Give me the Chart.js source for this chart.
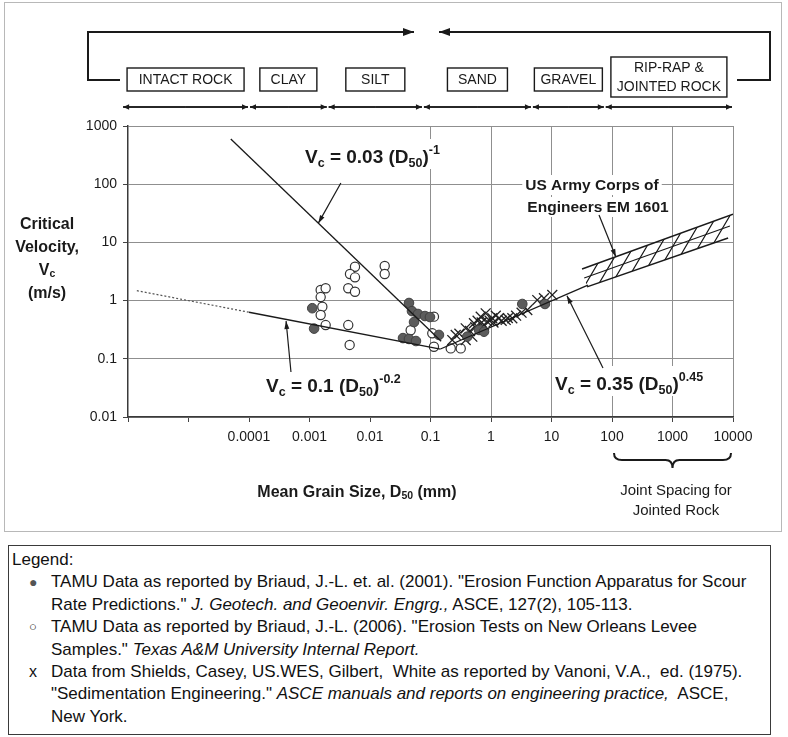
<!DOCTYPE html>
<html>
<head>
<meta charset="utf-8">
<script src="https://cdn.jsdelivr.net/npm/chart.js@4.4.1/dist/chart.umd.min.js"></script>
<style>
  html, body { margin: 0; padding: 0; background: #fff; }
  body { width: 788px; height: 737px; position: relative; overflow: hidden;
         font-family: 'Liberation Sans', Arial, Helvetica, sans-serif; color: #111; }
  #c { position: absolute; left: 0; top: 0; }
  #frame { position: absolute; left: 4px; top: 2px; width: 776px; height: 528px;
           border: 1px solid #b8b8b8; pointer-events: none; }
  #legend { position: absolute; left: 8px; top: 545px; width: 763px; height: 190px;
            box-sizing: border-box; border: 1.5px solid #3a3a3a; padding: 3px 0 0 3px;
            font-size: 17px; line-height: 22.4px; white-space: nowrap; }
  #legend .ln { position: relative; padding-left: 39px; }
  #legend .ln.head { padding-left: 0; }
  #legend .mk { position: absolute; left: 17px; top: 0; }
  #legend .dot { color: #555; font-size: 14px; left: 17px; }
  #legend .ring { color: #111; font-size: 13px; font-weight: bold; left: 17px; }
  #legend .ex { font-size: 16px; left: 17px; }
</style>
</head>
<body>
<canvas id="c" width="788" height="540"></canvas>
<div id="frame"></div>
<div id="legend">
  <div class="ln head">Legend:</div>
  <div class="ln"><span class="mk dot">&#9679;</span>TAMU Data as reported by Briaud, J.-L. et. al. (2001). "Erosion Function Apparatus for Scour</div>
  <div class="ln">Rate Predictions." <i>J. Geotech. and Geoenvir. Engrg.,</i> ASCE, 127(2), 105-113.</div>
  <div class="ln"><span class="mk ring">&#9675;</span>TAMU Data as reported by Briaud, J.-L. (2006). "Erosion Tests on New Orleans Levee</div>
  <div class="ln">Samples." <i>Texas A&amp;M University Internal Report.</i></div>
  <div class="ln"><span class="mk ex">x</span>Data from Shields, Casey, US.WES, Gilbert,&nbsp; White as reported by Vanoni, V.A.,&nbsp; ed. (1975).</div>
  <div class="ln">"Sedimentation Engineering." <i>ASCE manuals and reports on engineering practice,</i>&nbsp; ASCE,</div>
  <div class="ln">New York.</div>
</div>
<script>
// ---- Axis ticks ----
const xTicks = [1e-6, 1e-5, 1e-4, 1e-3, 1e-2, 0.1, 1, 10, 100, 1000, 10000];
const xTickLabels = ['', '', '0.0001', '0.001', '0.01', '0.1', '1', '10', '100', '1000', '10000'];
const yTicks = [0.01, 0.1, 1, 10, 100, 1000];
const yTickLabels = ['0.01', '0.1', '1', '10', '100', '1000'];

// ---- Soil classes along the grain-size axis (mm) ----
const soilClasses = [['INTACT ROCK'], ['CLAY'], ['SILT'], ['SAND'], ['GRAVEL'], ['RIP-RAP &', 'JOINTED ROCK']];
const classBounds = [8e-7, 1e-4, 0.002, 0.075, 4.75, 76, 10000];

// ---- TAMU data, Briaud et al. (2001): D50 (mm), Vc (m/s) ----
const tamu2001D = [0.00111, 0.00119, 0.0441, 0.0494, 0.0621, 0.081, 0.0534, 0.098,
                   0.0351, 0.0441, 0.0575, 0.138, 0.405, 0.634, 0.766, 3.29, 7.8];
const tamu2001V = [0.74, 0.33, 0.91, 0.66, 0.589, 0.543, 0.428, 0.522,
                   0.227, 0.219, 0.202, 0.257, 0.24, 0.313, 0.292, 0.875, 0.875];

// ---- TAMU data, Briaud (2006), New Orleans levee samples ----
const tamu2006D = [0.00153, 0.00185, 0.00153, 0.00163, 0.00153, 0.00185,
                   0.00565, 0.00467, 0.00565, 0.00437, 0.00565, 0.00437, 0.00461, 0.0175, 0.0175,
                   0.047, 0.114, 0.107, 0.114, 0.216, 0.316];
const tamu2006V = [1.52, 1.63, 1.15, 0.785, 0.566, 0.38,
                   3.82, 2.87, 2.51, 1.63, 1.42, 0.38, 0.173, 3.93, 2.87,
                   0.31, 0.53, 0.274, 0.161, 0.151, 0.151];

// ---- Shields, Casey, US.WES, Gilbert, White (Vanoni 1975) ----
const shieldsD = [0.229, 0.261, 0.3, 0.382, 0.382, 0.45, 0.491, 0.523, 0.55, 0.6, 0.676, 0.7,
                  0.766, 0.817, 0.869, 0.95, 1.05, 1.1, 1.2, 1.355, 1.5, 1.75, 1.9, 2.25,
                  2.6, 3.2, 3.98, 5.82, 7.5, 10.3];
const shieldsV = [0.21, 0.257, 0.27, 0.334, 0.21, 0.3, 0.24, 0.408, 0.35, 0.45, 0.528, 0.42,
                  0.381, 0.605, 0.434, 0.45, 0.497, 0.42, 0.55, 0.497, 0.45, 0.465, 0.5, 0.497,
                  0.55, 0.62, 0.69, 1.02, 1.1, 1.25];

// ---- Fitted relations Vc = a (D50)^b ----
const fitCoef = [0.03, 0.1, 0.35];
const fitExp = [-1, -0.2, 0.45];
const fitSiltRange = [5e-5, 0.15];       // Vc = 0.03 D^-1
const fitClayDotRange = [1.4e-6, 1e-4];  // Vc = 0.1 D^-0.2, extrapolated
const fitClayRange = [1e-4, 0.146];      // Vc = 0.1 D^-0.2
const fitCoarseRange = [0.146, 40];      // Vc = 0.35 D^0.45

// ---- US Army Corps of Engineers EM 1601 band ----
const bandUpperD = [32, 10000];  const bandUpperV = [3.5, 30.6];
const bandLowerD = [38.6, 8300]; const bandLowerV = [1.72, 11.9];
const bandMidD = [34.7, 8900];   const bandMidV = [2.44, 19.1];

const FONT = "'Liberation Sans', Arial, Helvetica, sans-serif";
const INK = '#1a1a1a';

const pts = (ds, vs) => ds.map((d, i) => ({ x: d, y: vs[i] }));
const fitPts = (k, range) => range.map(d => ({ x: d, y: fitCoef[k] * Math.pow(d, fitExp[k]) }));

// Text made of runs (subscripts / superscripts)
function runs(ctx, parts, x, y, draw) {
  let cx = x;
  for (const p of parts) {
    ctx.font = (p.bold ? 'bold ' : '') + p.size + 'px ' + FONT;
    if (draw) ctx.fillText(p.t, cx, y + (p.dy || 0));
    cx += ctx.measureText(p.t).width;
  }
  return cx - x;
}
function formulaParts(k) {
  const B = 19, S = 12.5;
  const e = String(fitExp[k]);
  return [
    { t: 'V', size: B, bold: true }, { t: 'c', size: S, bold: true, dy: 4 },
    { t: ' = ' + fitCoef[k] + ' (', size: B, bold: true },
    { t: 'D', size: B, bold: true }, { t: '50', size: S, bold: true, dy: 4 },
    { t: ')', size: B, bold: true }, { t: e, size: S, bold: true, dy: -9 }
  ];
}
function arrow(ctx, x1, y1, x2, y2, len, half, lw) {
  ctx.lineWidth = lw;
  ctx.beginPath(); ctx.moveTo(x1, y1); ctx.lineTo(x2, y2); ctx.stroke();
  const a = Math.atan2(y2 - y1, x2 - x1);
  ctx.beginPath();
  ctx.moveTo(x2, y2);
  ctx.lineTo(x2 - len * Math.cos(a) + half * Math.sin(a), y2 - len * Math.sin(a) - half * Math.cos(a));
  ctx.lineTo(x2 - len * Math.cos(a) - half * Math.sin(a), y2 - len * Math.sin(a) + half * Math.cos(a));
  ctx.closePath(); ctx.fill();
}

// Hatched band for EM 1601
const bandHatch = {
  id: 'bandHatch',
  beforeDatasetsDraw(chart) {
    const ctx = chart.ctx, a = chart.chartArea;
    const up = chart.getDatasetMeta(4).data, lo = chart.getDatasetMeta(5).data;
    if (!up.length || !lo.length) return;
    ctx.save();
    ctx.beginPath(); ctx.rect(a.left, a.top, a.right - a.left, a.bottom - a.top); ctx.clip();
    ctx.beginPath();
    ctx.moveTo(up[0].x, up[0].y); ctx.lineTo(up[1].x, up[1].y);
    ctx.lineTo(lo[1].x, lo[1].y); ctx.lineTo(lo[0].x, lo[0].y); ctx.closePath();
    ctx.clip();
    const x0 = Math.min(up[0].x, lo[0].x) - 40, x1 = Math.max(up[1].x, lo[1].x) + 10;
    const yT = Math.min(up[1].y, up[0].y) - 5, yB = Math.max(lo[0].y, lo[1].y) + 5;
    ctx.strokeStyle = INK; ctx.lineWidth = 1.2;
    ctx.beginPath();
    for (let x = x0; x < x1; x += 13) {
      ctx.moveTo(x, yB); ctx.lineTo(x + (yB - yT) / 1.7, yT);
    }
    ctx.stroke();
    ctx.restore();
  }
};

// Labels, arrows, category strip, axis titles
const annotations = {
  id: 'annotations',
  afterDatasetsDraw(chart) {
    const ctx = chart.ctx;
    const X = chart.scales.x, Y = chart.scales.y;
    const px = v => X.getPixelForValue(v), py = v => Y.getPixelForValue(v);
    const fitV = (k, d) => fitCoef[k] * Math.pow(d, fitExp[k]);
    ctx.save();
    ctx.fillStyle = INK; ctx.strokeStyle = INK;
    ctx.textBaseline = 'alphabetic';

    // formula labels on white
    const labelAt = [[305, 163], [266, 392], [555, 390]];
    [0, 1, 2].forEach(k => {
      const parts = formulaParts(k);
      const w = runs(ctx, parts, 0, 0, false);
      const [lx, ly] = labelAt[k];
      ctx.fillStyle = '#fff'; ctx.fillRect(lx - 3, ly - 24, w + 6, 30);
      ctx.fillStyle = INK;
      runs(ctx, parts, lx, ly, true);
    });

    // EM 1601 label
    ctx.font = 'bold 15.5px ' + FONT; ctx.textAlign = 'center';
    const emL = ['US Army Corps of', 'Engineers EM 1601'], emX = [592, 598], emY = [190, 212];
    emL.forEach((t, i) => {
      const w = ctx.measureText(t).width;
      ctx.fillStyle = '#fff'; ctx.fillRect(emX[i] - w / 2 - 3, emY[i] - 15, w + 6, 20);
      ctx.fillStyle = INK; ctx.fillText(t, emX[i], emY[i]);
    });
    ctx.textAlign = 'left';

    // pointer arrows (tail in data space, head on the relation)
    arrow(ctx, px(0.0033), py(105), px(0.0014), py(fitV(0, 0.0014)), 8, 2.5, 1.2);
    arrow(ctx, px(4.94e-4), py(0.0593), px(4.1e-4), py(fitV(1, 4.1e-4) * 0.94), 8, 2.5, 1.2);
    arrow(ctx, px(71), py(0.0695), px(18), py(fitV(2, 18) * 0.94), 8, 2.5, 1.2);
    arrow(ctx, px(61), py(29.6), px(116), py(5.6), 8, 2.5, 1.2);

    // category strip
    const boxW = [117, 57, 59, 60, 68, 116];
    const arrowY = 107;
    ctx.font = '14px ' + FONT; ctx.textAlign = 'center'; ctx.textBaseline = 'middle';
    soilClasses.forEach((lines, i) => {
      const a = px(classBounds[i]), b = px(classBounds[i + 1]);
      ctx.lineWidth = 1.4;
      ctx.beginPath(); ctx.moveTo(a + 1, arrowY); ctx.lineTo(b - 1, arrowY); ctx.stroke();
      arrow(ctx, (a + b) / 2, arrowY, b - 1, arrowY, 6, 2.8, 1.4);
      arrow(ctx, (a + b) / 2, arrowY, a + 1, arrowY, 6, 2.8, 1.4);
      const cx = (a + b) / 2, w = boxW[i];
      const top = lines.length > 1 ? 57 : 68, h = lines.length > 1 ? 40 : 23;
      ctx.lineWidth = 1.4;
      ctx.strokeRect(cx - w / 2, top, w, h);
      lines.forEach((t, j) => {
        ctx.fillText(t, cx, top + h / 2 + (j - (lines.length - 1) / 2) * 19 + 1);
      });
    });

    // bracket arrows above the strip
    ctx.lineWidth = 2;
    ctx.beginPath();
    ctx.moveTo(120, 80); ctx.lineTo(88, 80); ctx.lineTo(88, 32); ctx.lineTo(404, 32);
    ctx.moveTo(737, 80); ctx.lineTo(770, 80); ctx.lineTo(770, 32); ctx.lineTo(449, 32);
    ctx.stroke();
    arrow(ctx, 400, 32, 414, 32, 11, 4, 2);
    arrow(ctx, 453, 32, 439, 32, 11, 4, 2);

    // y-axis title
    ctx.textBaseline = 'middle'; ctx.textAlign = 'center';
    ctx.font = 'bold 16px ' + FONT;
    ctx.fillText('Critical', 47, 225);
    ctx.fillText('Velocity,', 47, 248);
    ctx.fillText('(m/s)', 47, 294);
    const vc = [{ t: 'V', size: 16, bold: true }, { t: 'c', size: 10.5, bold: true, dy: 3 }];
    ctx.textAlign = 'left';
    const vw = runs(ctx, vc, 0, 0, false);
    runs(ctx, vc, 47 - vw / 2, 271, true);

    // x-axis title
    const xt = [{ t: 'Mean Grain Size, D', size: 16, bold: true }, { t: '50', size: 10.5, bold: true, dy: 3 },
                { t: ' (mm)', size: 16, bold: true }];
    const xw = runs(ctx, xt, 0, 0, false);
    runs(ctx, xt, 357 - xw / 2, 493, true);

    // joint spacing brace
    const b0 = px(100) + 2, b1 = px(10000) - 2, bm = (b0 + b1) / 2, by = 453;
    ctx.lineWidth = 2; ctx.beginPath();
    ctx.moveTo(b0, by); ctx.quadraticCurveTo(b0, by + 7, b0 + 8, by + 7);
    ctx.lineTo(bm - 7, by + 7); ctx.quadraticCurveTo(bm, by + 7, bm, by + 15);
    ctx.quadraticCurveTo(bm, by + 7, bm + 7, by + 7);
    ctx.lineTo(b1 - 8, by + 7); ctx.quadraticCurveTo(b1, by + 7, b1, by);
    ctx.stroke();
    ctx.textAlign = 'center'; ctx.font = '15px ' + FONT;
    ctx.fillText('Joint Spacing for', 676, 491);
    ctx.fillText('Jointed Rock', 676, 511);
    ctx.restore();
  }
};

const lineStyle = { showLine: true, pointRadius: 0, borderColor: INK, borderWidth: 1.3, fill: false };

new Chart(document.getElementById('c'), {
  type: 'scatter',
  data: {
    datasets: [
      { label: 'Vc = 0.03 D^-1', data: fitPts(0, fitSiltRange), ...lineStyle, order: 0 },
      { label: 'Vc = 0.1 D^-0.2 (extended)', data: fitPts(1, fitClayDotRange), ...lineStyle,
        borderColor: '#555', borderWidth: 1.2, borderDash: [2, 2], order: 0 },
      { label: 'Vc = 0.1 D^-0.2', data: fitPts(1, fitClayRange), ...lineStyle, order: 0 },
      { label: 'Vc = 0.35 D^0.45', data: fitPts(2, fitCoarseRange), ...lineStyle, order: 0 },
      { label: 'EM 1601 upper', data: pts(bandUpperD, bandUpperV), ...lineStyle, borderWidth: 1.5, order: 0 },
      { label: 'EM 1601 lower', data: pts(bandLowerD, bandLowerV), ...lineStyle, borderWidth: 1.5, order: 0 },
      { label: 'EM 1601 mid', data: pts(bandMidD, bandMidV), ...lineStyle, borderWidth: 1.2, order: 0 },
      { label: 'TAMU 2006', data: pts(tamu2006D, tamu2006V), pointStyle: 'circle', pointRadius: 4.6,
        backgroundColor: '#fff', borderColor: '#333', borderWidth: 1.2, order: 2 },
      { label: 'TAMU 2001', data: pts(tamu2001D, tamu2001V), pointStyle: 'circle', pointRadius: 4.8,
        backgroundColor: '#5c5c5c', borderColor: '#404040', borderWidth: 1, order: 1 },
      { label: 'Shields et al.', data: pts(shieldsD, shieldsV), pointStyle: 'crossRot', pointRadius: 7,
        borderColor: '#222', borderWidth: 1.3, order: 1 }
    ]
  },
  options: {
    responsive: false, animation: false, devicePixelRatio: 1,
    layout: { padding: { top: 126, right: 55, left: 0, bottom: 0 } },
    plugins: { legend: { display: false }, tooltip: { enabled: false } },
    scales: {
      x: {
        type: 'logarithmic', min: 1e-6, max: 1e4,
        afterBuildTicks: ax => { ax.ticks = xTicks.map(v => ({ value: v })); },
        afterFit: ax => { ax.height = 123; },
        ticks: { autoSkip: false, maxRotation: 0, padding: 7, color: INK,
                 font: { family: FONT, size: 14 }, callback: (v, i) => xTickLabels[i] },
        grid: { color: c => (c.tick && c.tick.value >= 0.1) ? '#8f8f8f' : 'rgba(0,0,0,0)',
                tickColor: '#444', tickLength: 5, lineWidth: 1 },
        border: { color: '#3a3a3a', width: 1.5 }
      },
      y: {
        type: 'logarithmic', min: 0.01, max: 1000,
        afterBuildTicks: ax => { ax.ticks = yTicks.map(v => ({ value: v })); },
        afterFit: ax => { ax.width = 128; },
        ticks: { autoSkip: false, padding: 6, color: INK,
                 font: { family: FONT, size: 14 }, callback: (v, i) => yTickLabels[i] },
        grid: { color: '#8f8f8f', tickColor: '#444', tickLength: 5, lineWidth: 1 },
        border: { color: '#3a3a3a', width: 1.5 }
      }
    }
  },
  plugins: [bandHatch, annotations]
});
</script>
</body>
</html>
